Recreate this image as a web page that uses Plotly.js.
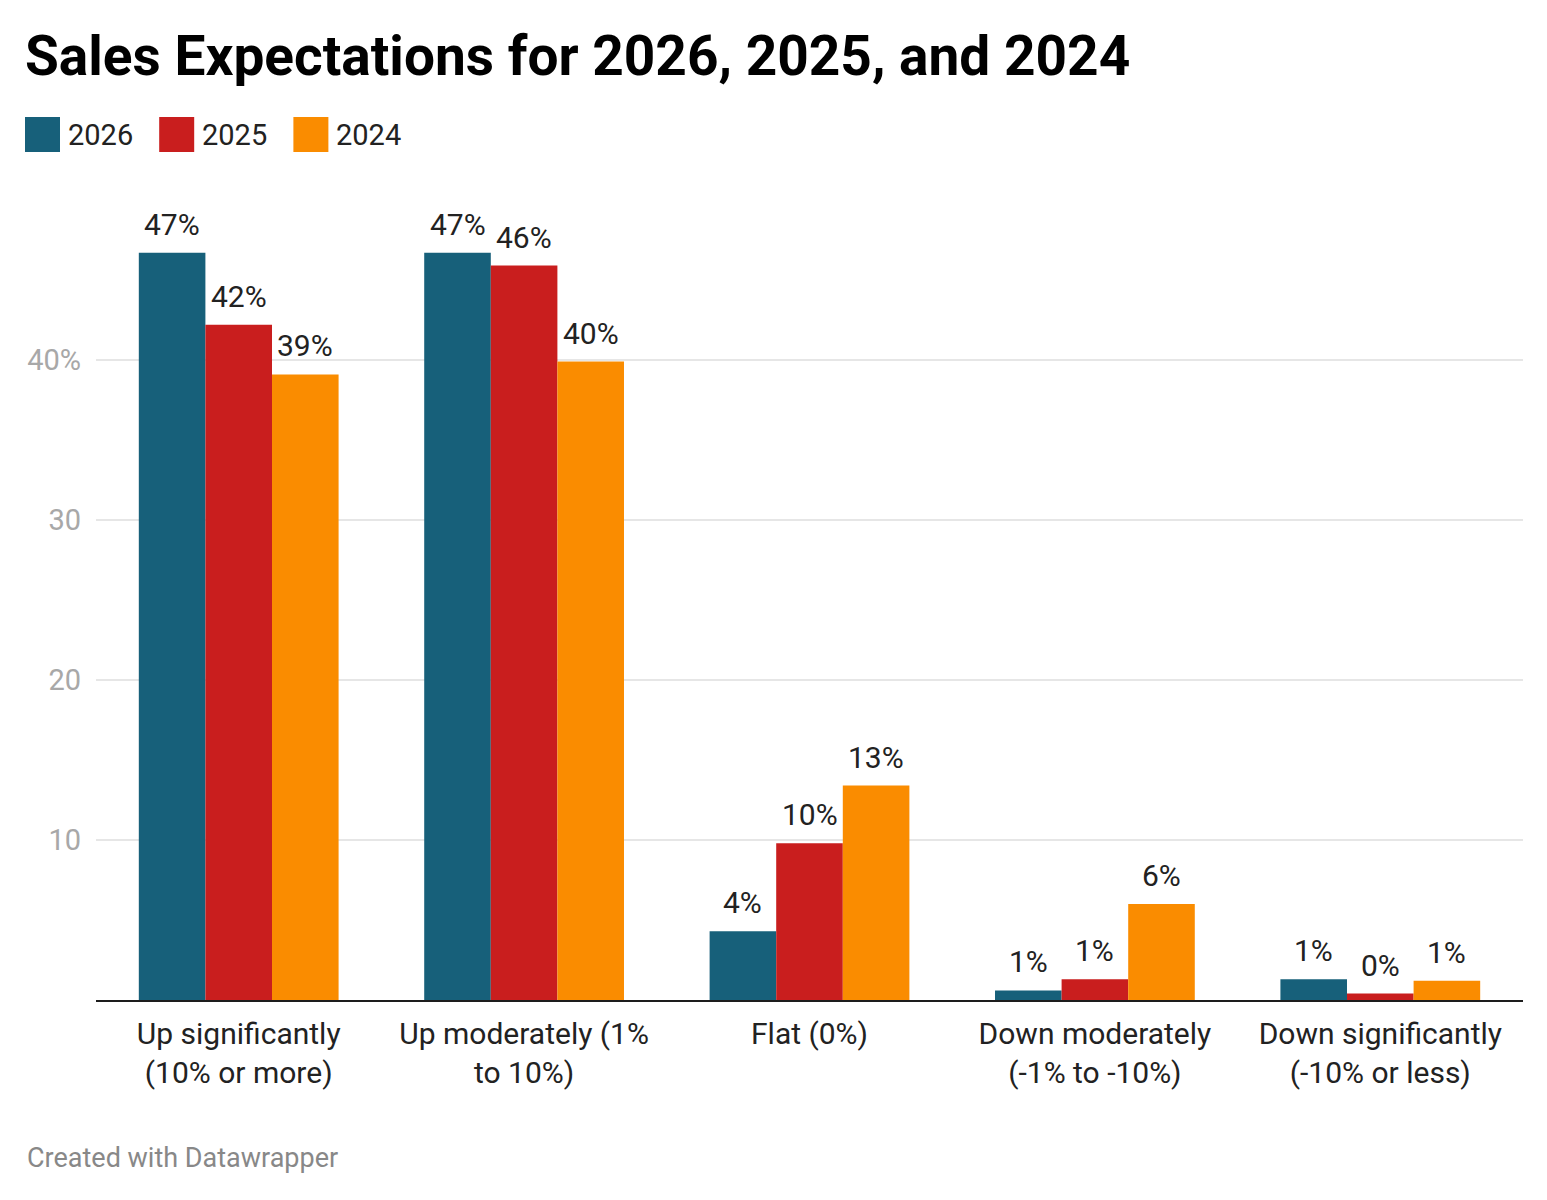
<!DOCTYPE html>
<html>
<head>
<meta charset="utf-8">
<script src="https://cdn.plot.ly/plotly-3.0.1.min.js"></script>
<style>
  html, body { margin: 0; padding: 0; background: #ffffff; }
  #chart { width: 1547px; height: 1200px; }
</style>
</head>
<body>
<div id="chart"></div>
<script>
// Response categories (x axis)
const categories = [
  "Up significantly<br>(10% or more)",
  "Up moderately (1%<br>to 10%)",
  "Flat (0%)",
  "Down moderately<br>(-1% to -10%)",
  "Down significantly<br>(-10% or less)"
];

// Share of respondents (%) per year
const years = ["2026", "2025", "2024"];
const values2026 = [46.7, 46.7, 4.3, 0.6, 1.3];
const values2025 = [42.2, 45.9, 9.8, 1.3, 0.4];
const values2024 = [39.1, 39.9, 13.4, 6.0, 1.2];

// Y axis ticks
const yTickVals = [10, 20, 30, 40];
const yTickText = ["10", "20", "30", "40%"];

const colors = ["#17607a", "#c91e1e", "#fa8c00"];
const series = [values2026, values2025, values2024];

const W = 1547, H = 1200;
const M = { l: 96, r: 24, t: 200, b: 200 };
const plotW = W - M.l - M.r;
const plotH = H - M.t - M.b;
const BARGAP = 0.3;
const FONT = "Roboto, 'Noto Sans', Arial, sans-serif";

// pixel -> paper helpers for the header elements
const px2x = px => (px - M.l) / plotW;
const px2y = py => (H - M.b - py) / plotH;

const traces = years.map((yr, s) => ({
  type: "bar",
  name: yr,
  x: categories,
  y: series[s],
  marker: { color: colors[s], line: { width: 0 } },
  hoverinfo: "x+y+name",
  showlegend: false
}));

// value labels above each bar
const annotations = [];
const barW = (1 - BARGAP) / years.length;
series.forEach((vals, s) => {
  vals.forEach((v, i) => {
    annotations.push({
      xref: "x", yref: "y",
      x: i + (s - (years.length - 1) / 2) * barW,
      y: v,
      text: Math.round(v) + "%",
      showarrow: false,
      xanchor: "center", yanchor: "bottom",
      yshift: 9,
      font: { family: FONT, size: 30, color: "#222222" }
    });
  });
});

// legend: colour squares followed by the year
const ctx = document.createElement("canvas").getContext("2d");
ctx.font = "29px Roboto";
const shapes = [];
let cx = 25;
const legTop = 117, legSize = 35;
years.forEach((yr, s) => {
  shapes.push({
    type: "rect", xref: "paper", yref: "paper",
    x0: px2x(cx), x1: px2x(cx + legSize),
    y0: px2y(legTop + legSize), y1: px2y(legTop),
    fillcolor: colors[s], line: { width: 0 }
  });
  annotations.push({
    xref: "paper", yref: "paper",
    x: px2x(cx + legSize + 6), y: px2y(legTop + legSize / 2),
    xanchor: "left", yanchor: "middle",
    text: yr, showarrow: false,
    font: { family: FONT, size: 29, color: "#222222" }
  });
  cx += legSize + 6 + ctx.measureText(yr).width + 28;
});

// footer credit
annotations.push({
  xref: "paper", yref: "paper",
  x: px2x(25), y: px2y(1158),
  xanchor: "left", yanchor: "middle",
  text: "Created with Datawrapper", showarrow: false,
  font: { family: FONT, size: 27, color: "#888888" }
});

const layout = {
  width: W, height: H,
  margin: M,
  paper_bgcolor: "#ffffff",
  plot_bgcolor: "#ffffff",
  font: { family: FONT, color: "#222222" },
  title: {
    text: "<b>Sales Expectations for 2026, 2025, and 2024</b>",
    font: { family: FONT, size: 55, color: "#000000" },
    xref: "container", yref: "container",
    x: 25 / W, xanchor: "left",
    y: 1 - 36 / H, yanchor: "top"
  },
  barmode: "group",
  bargap: BARGAP,
  bargroupgap: 0,
  xaxis: {
    type: "category",
    showgrid: false,
    showline: true, linecolor: "#1d1d1d", linewidth: 2,
    ticks: "",
    ticklabelstandoff: 6,
    tickfont: { family: FONT, size: 30, color: "#222222" },
    fixedrange: true
  },
  yaxis: {
    range: [0, 50],
    tickvals: yTickVals, ticktext: yTickText,
    showgrid: true, gridcolor: "#e6e6e6", gridwidth: 2,
    zeroline: false, showline: false, ticks: "",
    ticklabelstandoff: 14,
    tickfont: { family: FONT, size: 29, color: "#a8a8a8" },
    fixedrange: true
  },
  shapes: shapes,
  annotations: annotations,
  showlegend: false
};

Plotly.newPlot("chart", traces, layout, { displayModeBar: false, staticPlot: true });
</script>
</body>
</html>
